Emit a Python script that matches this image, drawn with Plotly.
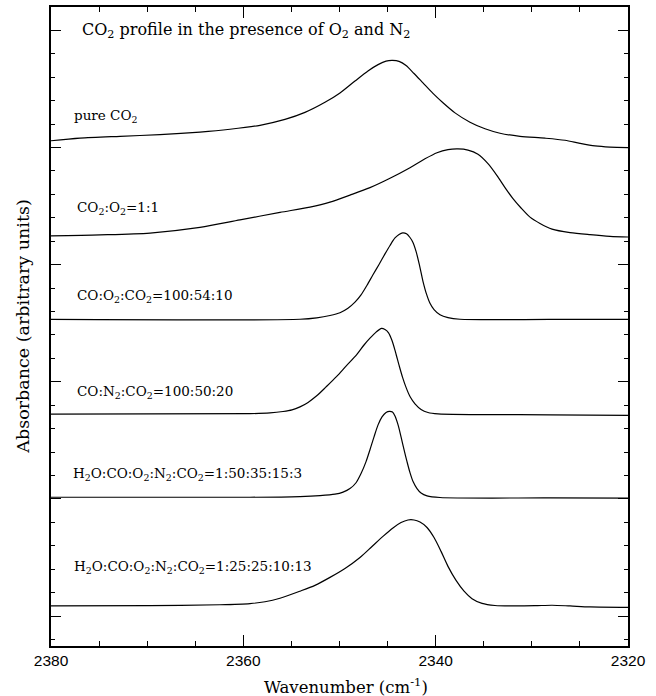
import plotly.graph_objects as go

# Wavenumber (cm^-1) samples and absorbance (arbitrary units, stacked) per mixture
wn_pure = [2380.00, 2376.98, 2372.82, 2368.67, 2364.51, 2361.39, 2358.27, 2355.67,
           2353.59, 2351.51, 2349.95, 2348.39, 2347.04, 2345.99, 2345.16, 2344.49,
           2343.81, 2343.08, 2342.25, 2341.32, 2340.28, 2339.24, 2337.99, 2336.43,
           2334.87, 2333.31, 2331.23, 2328.63, 2326.55, 2324.99, 2323.43, 2321.87,
           2320.00]
ab_pure = [20.29, 20.40, 20.48, 20.55, 20.66, 20.78, 20.95, 21.20,
           21.50, 21.93, 22.33, 22.84, 23.27, 23.54, 23.69, 23.72,
           23.68, 23.50, 23.16, 22.76, 22.31, 21.91, 21.48, 21.08,
           20.80, 20.61, 20.48, 20.40, 20.31, 20.18, 20.07, 20.02,
           20.00]

wn_o2 = [2380.00, 2374.90, 2369.70, 2364.51, 2360.35, 2356.19, 2353.07, 2350.99,
         2348.91, 2346.83, 2344.75, 2342.67, 2341.11, 2339.86, 2338.72, 2337.68,
         2336.64, 2335.60, 2334.56, 2333.62, 2332.79, 2331.96, 2331.12, 2330.19,
         2329.15, 2327.90, 2326.03, 2323.95, 2321.87, 2320.00]
ab_o2 = [16.23, 16.27, 16.35, 16.59, 16.91, 17.23, 17.46, 17.67,
         17.97, 18.29, 18.69, 19.14, 19.52, 19.78, 19.91, 19.94,
         19.89, 19.71, 19.31, 18.80, 18.29, 17.82, 17.42, 17.03,
         16.76, 16.52, 16.37, 16.28, 16.21, 16.18]

wn_co_o2 = [2380.00, 2354.11, 2352.37, 2350.99, 2349.95, 2349.12, 2348.39, 2347.76,
            2347.14, 2346.52, 2345.89, 2345.27, 2344.75, 2344.23, 2343.81, 2343.43,
            2343.03, 2342.67, 2342.36, 2342.04, 2341.68, 2341.32, 2340.95, 2340.59,
            2340.17, 2339.55, 2338.72, 2337.47, 2328.11, 2320.00]
ab_co_o2 = [12.66, 12.67, 12.73, 12.83, 12.95, 13.14, 13.40, 13.71,
            14.12, 14.57, 15.01, 15.46, 15.82, 16.14, 16.29, 16.36,
            16.32, 16.16, 15.95, 15.57, 14.97, 14.29, 13.74, 13.35,
            13.08, 12.86, 12.74, 12.67, 12.66, 12.66]

wn_co_n2 = [2380.00, 2359.31, 2357.23, 2355.87, 2354.94, 2354.11, 2353.27, 2352.37,
            2351.40, 2350.29, 2349.32, 2348.21, 2347.45, 2346.83, 2346.20, 2345.63,
            2345.27, 2344.90, 2344.54, 2344.18, 2343.81, 2343.45, 2343.08, 2342.67,
            2342.15, 2341.52, 2340.80, 2339.76, 2328.11, 2320.00]
ab_co_n2 = [8.62, 8.64, 8.67, 8.73, 8.80, 8.93, 9.12, 9.40,
            9.78, 10.23, 10.67, 11.16, 11.57, 11.86, 12.12, 12.28,
            12.23, 12.09, 11.76, 11.27, 10.71, 10.20, 9.76, 9.37,
            9.06, 8.82, 8.69, 8.63, 8.59, 8.57]

wn_mix3 = [2380.00, 2359.31, 2354.11, 2352.03, 2350.47, 2349.63, 2348.91, 2348.28,
           2347.76, 2347.24, 2346.83, 2346.41, 2345.99, 2345.58, 2345.16, 2344.80,
           2344.49, 2344.23, 2343.91, 2343.60, 2343.29, 2342.98, 2342.67, 2342.35,
           2341.94, 2341.52, 2340.90, 2339.55, 2328.11, 2320.00]
ab_mix3 = [5.07, 5.07, 5.10, 5.14, 5.20, 5.29, 5.44, 5.69,
           6.08, 6.59, 7.10, 7.65, 8.16, 8.50, 8.69, 8.74,
           8.71, 8.54, 8.16, 7.65, 7.10, 6.59, 6.12, 5.74,
           5.44, 5.25, 5.13, 5.06, 5.04, 5.03]

wn_mix13 = [2380.00, 2369.70, 2362.43, 2359.31, 2357.75, 2356.19, 2354.11, 2352.55,
            2350.99, 2349.43, 2347.87, 2346.62, 2345.48, 2344.44, 2343.60, 2342.88,
            2342.25, 2341.63, 2340.90, 2340.17, 2339.44, 2338.72, 2337.88, 2337.05,
            2336.22, 2335.18, 2333.83, 2331.75, 2329.67, 2327.90, 2326.03, 2323.95,
            2320.00]
ab_mix13 = [0.43, 0.44, 0.48, 0.53, 0.61, 0.76, 1.06, 1.31,
            1.65, 2.03, 2.50, 2.97, 3.40, 3.76, 3.99, 4.10,
            4.10, 4.01, 3.78, 3.35, 2.76, 2.12, 1.52, 1.06,
            0.74, 0.54, 0.45, 0.43, 0.44, 0.46, 0.43, 0.39,
            0.37]

spectra = [(wn_pure, ab_pure), (wn_o2, ab_o2), (wn_co_o2, ab_co_o2),
           (wn_co_n2, ab_co_n2), (wn_mix3, ab_mix3), (wn_mix13, ab_mix13)]

labels = ["pure CO<sub>2</sub>",
          "CO<sub>2</sub>:O<sub>2</sub>=1:1",
          "CO:O<sub>2</sub>:CO<sub>2</sub>=100:54:10",
          "CO:N<sub>2</sub>:CO<sub>2</sub>=100:50:20",
          "H<sub>2</sub>O:CO:O<sub>2</sub>:N<sub>2</sub>:CO<sub>2</sub>=1:50:35:15:3",
          "H<sub>2</sub>O:CO:O<sub>2</sub>:N<sub>2</sub>:CO<sub>2</sub>=1:25:25:10:13"]
label_x = [2377.8, 2377.5, 2377.5, 2377.5, 2377.9, 2377.8]
label_y = [21.35, 17.4, 13.65, 9.55, 6.05, 2.1]

TITLE = "CO<sub>2</sub> profile in the presence of O<sub>2</sub> and N<sub>2</sub>"
SERIF = "DejaVu Serif"

fig = go.Figure()
for wn, ab in spectra:
    fig.add_trace(go.Scatter(x=wn, y=ab, mode="lines",
                             line=dict(color="black", width=1.2, shape="spline", smoothing=0.8),
                             showlegend=False, hoverinfo="skip"))

for text, xv, yv in zip(labels, label_x, label_y):
    fig.add_annotation(x=xv, y=yv, xref="x", yref="y", text=text, showarrow=False,
                       xanchor="left", yanchor="middle",
                       font=dict(family=SERIF, size=13.5, color="black"))

fig.add_annotation(x=2377.0, y=25.0, xref="x", yref="y", text=TITLE,
                   showarrow=False, xanchor="left", yanchor="middle",
                   font=dict(family=SERIF, size=16, color="black"))

fig.add_annotation(x=0.511, y=-0.0625, xref="paper", yref="paper",
                   text="Wavenumber (cm<sup>-1</sup>)", showarrow=False,
                   xanchor="center", yanchor="middle",
                   font=dict(family=SERIF, size=16.5, color="black"))
fig.add_annotation(x=-0.050, y=0.5, xref="paper", yref="paper",
                   text="Absorbance (arbitrary units)", showarrow=False, textangle=-90,
                   xanchor="center", yanchor="middle",
                   font=dict(family=SERIF, size=17.5, color="black"))

fig.update_xaxes(range=[2380, 2320], tickvals=[2380, 2360, 2340, 2320],
                 ticks="inside", ticklen=11, tickwidth=1, tickcolor="black",
                 minor=dict(dtick=5, ticks="inside", ticklen=5, tickwidth=1, tickcolor="black"),
                 showline=True, linecolor="black", linewidth=1.5, mirror="ticks",
                 showgrid=False, zeroline=False,
                 tickfont=dict(family="Liberation Sans", size=15.5, color="black"))
fig.update_yaxes(range=[-1.28, 26.0], tickvals=[0, 5, 10, 15, 20, 25],
                 showticklabels=False,
                 ticks="inside", ticklen=10, tickwidth=1, tickcolor="black",
                 minor=dict(dtick=1, ticks="inside", ticklen=4, tickwidth=1, tickcolor="black"),
                 showline=True, linecolor="black", linewidth=1.5, mirror="ticks",
                 showgrid=False, zeroline=False)

fig.update_layout(width=656, height=696, margin=dict(l=51, r=28, t=5, b=50),
                  paper_bgcolor="white", plot_bgcolor="white")

fig.write_html("out.html")
